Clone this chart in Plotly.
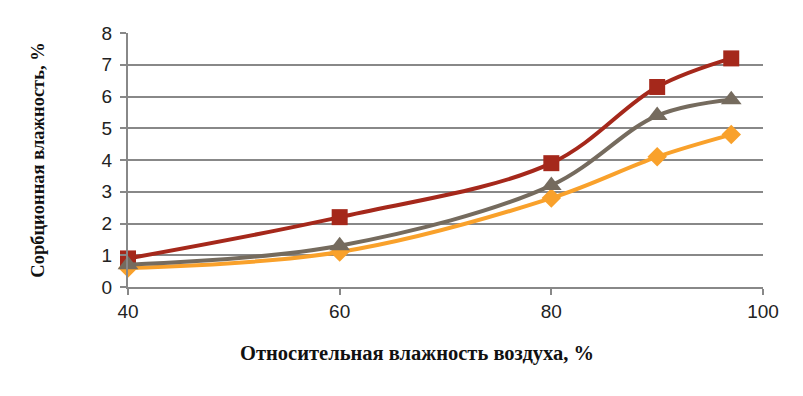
import plotly.graph_objects as go

x_vals = [40, 60, 80, 90, 97]
s_orange = [0.6, 1.1, 2.8, 4.1, 4.8]
s_red = [0.9, 2.2, 3.9, 6.3, 7.2]
s_gray = [0.7, 1.3, 3.2, 5.4, 5.9]

x_ticks = [40, 60, 80, 100]
y_ticks = [0, 1, 2, 3, 4, 5, 6, 7, 8]

fig = go.Figure()
series = [
    (s_orange, "#F9A12B", "diamond", 15),
    (s_red, "#A5281B", "square", 16),
    (s_gray, "#756B5E", "triangle-up", 18),
]
for ys, col, sym, sz in series:
    fig.add_trace(go.Scatter(
        x=x_vals, y=ys, mode="lines+markers",
        line=dict(color=col, width=4, shape="spline", smoothing=1),
        marker=dict(symbol=sym, size=sz, color=col),
        showlegend=False, cliponaxis=False,
    ))

fig.update_layout(
    width=795, height=388,
    margin=dict(l=120, r=40, t=25, b=109),
    paper_bgcolor="white", plot_bgcolor="white",
    font=dict(family="Liberation Sans", size=19, color="#222"),
)
fig.add_annotation(
    text="<b>Относительная влажность воздуха, %</b>",
    xref="paper", yref="paper", x=0.173, y=0.0, yshift=-66,
    xanchor="left", yanchor="middle", showarrow=False,
    font=dict(family="Liberation Serif", size=20.5, color="#111"),
)
fig.update_xaxes(
    range=[40, 100], tickvals=x_ticks, showgrid=False,
    showline=True, linecolor="#888888", linewidth=2,
    ticks="outside", ticklen=6, tickcolor="#888888", tickwidth=2,
    zeroline=False,
)
fig.update_yaxes(
    range=[0, 8], tickvals=y_ticks, showgrid=True, gridcolor="#888888", gridwidth=2,
    showline=True, linecolor="#888888", linewidth=2,
    ticks="outside", ticklen=6, tickcolor="#888888", tickwidth=2,
    ticklabelstandoff=4,
    zeroline=False,
    title=dict(text="<b>Сорбционная влажность, %</b>",
               font=dict(family="Liberation Serif", size=18.5, color="#111"), standoff=52),
)
fig.write_html("out.html")
